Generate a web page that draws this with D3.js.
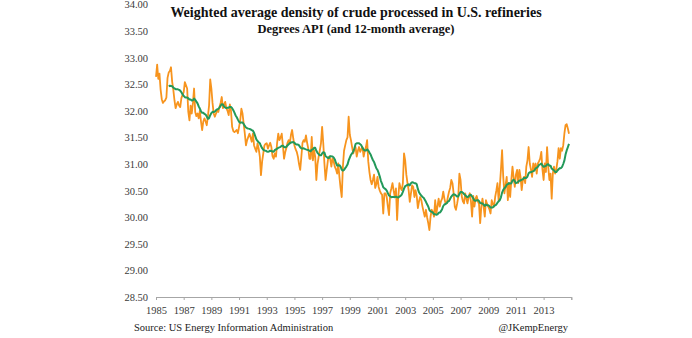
<!DOCTYPE html>
<html>
<head>
<meta charset="utf-8">
<script src="https://cdn.jsdelivr.net/npm/d3@7"></script>
<style>
  html, body { margin: 0; padding: 0; background: #fff; }
  svg { display: block; }
  text { font-family: "Liberation Serif", "DejaVu Serif", serif; }
</style>
</head>
<body>
<svg id="chart" width="692" height="338"></svg>
<script>
// Monthly weighted-average API gravity of crude run in U.S. refineries, Jan 1985 onward
const startYear = 1985;
const apiMonthly = [
  32.64, 32.87, 32.60, 32.70, 32.40, 32.22, 32.15, 32.18, 32.20, 32.25, 32.62, 32.72, // 1985
  32.75, 32.82, 32.55, 32.40, 32.20, 32.05, 32.12, 32.17, 32.10, 32.07, 32.24, 32.30, // 1986
  32.35, 32.54, 32.48, 32.42, 31.98, 31.82, 32.10, 31.95, 32.15, 32.42, 31.98, 31.90, // 1987
  31.95, 31.86, 32.00, 31.80, 31.64, 31.80, 31.86, 31.80, 31.73, 31.90, 32.10, 32.59, // 1988
  32.42, 32.15, 31.95, 31.89, 31.95, 32.00, 31.98, 32.07, 32.15, 32.26, 32.05, 32.12, // 1989
  32.17, 32.05, 32.00, 31.92, 32.12, 32.00, 31.70, 31.62, 31.60, 31.62, 31.64, 31.58, // 1990
  31.70, 31.82, 32.04, 31.95, 31.76, 31.57, 31.35, 31.45, 31.51, 31.57, 31.50, 31.42, // 1991
  31.57, 31.35, 31.29, 31.23, 31.39, 31.29, 31.14, 30.79, 31.05, 31.20, 31.35, 31.38, // 1992
  31.39, 31.29, 31.35, 31.40, 31.32, 31.15, 31.10, 31.20, 31.14, 31.40, 31.57, 31.45, // 1993
  31.50, 31.57, 31.35, 31.10, 31.22, 31.30, 31.40, 31.45, 31.39, 31.55, 31.64, 31.48, // 1994
  31.35, 31.28, 31.23, 31.14, 31.00, 30.89, 31.14, 31.40, 31.45, 31.42, 31.54, 31.40, // 1995
  31.29, 31.10, 31.10, 31.51, 31.07, 31.26, 31.14, 30.70, 31.00, 31.14, 31.26, 31.39, // 1996
  31.70, 31.39, 31.01, 30.70, 30.89, 31.07, 31.14, 31.10, 30.95, 31.10, 31.05, 30.95, // 1997
  30.90, 30.82, 31.01, 30.76, 30.55, 30.38, 30.95, 31.25, 31.35, 31.45, 31.50, 31.89, // 1998
  31.55, 31.45, 31.32, 31.20, 31.28, 31.32, 31.14, 31.25, 31.32, 31.23, 31.28, 31.32, // 1999
  31.14, 31.25, 31.32, 31.45, 31.05, 30.85, 30.70, 30.62, 30.70, 30.80, 30.55, 30.62, // 2000
  30.76, 30.57, 30.50, 30.45, 30.42, 30.07, 30.45, 30.45, 30.38, 30.20, 30.04, 30.45, // 2001
  30.54, 30.64, 30.50, 30.38, 30.54, 29.95, 30.38, 30.64, 30.55, 30.51, 30.64, 31.20, // 2002
  31.07, 30.80, 30.64, 30.51, 30.29, 30.45, 30.60, 30.57, 30.38, 30.51, 30.40, 30.17, // 2003
  30.30, 30.38, 30.32, 30.20, 30.10, 30.01, 30.14, 30.00, 29.89, 29.76, 30.01, 30.14, // 2004
  30.10, 30.01, 30.32, 30.07, 30.20, 30.35, 30.20, 30.30, 30.35, 30.48, 30.35, 30.26, // 2005
  30.26, 30.38, 30.48, 30.55, 30.70, 30.64, 30.45, 30.20, 30.14, 30.25, 30.38, 30.82, // 2006
  30.70, 30.40, 30.30, 30.26, 30.45, 30.35, 30.26, 30.38, 30.45, 30.30, 30.01, 30.40, // 2007
  30.20, 30.35, 30.40, 30.30, 30.25, 29.89, 30.20, 30.35, 30.20, 30.01, 30.32, 30.25, // 2008
  30.20, 30.15, 30.07, 30.32, 30.25, 30.20, 30.38, 30.50, 30.64, 30.32, 30.57, 30.89, // 2009
  31.26, 30.76, 30.45, 30.60, 30.76, 30.32, 30.64, 30.38, 30.70, 30.95, 30.75, 30.57, // 2010
  30.80, 30.89, 30.64, 30.89, 30.76, 30.51, 30.70, 30.76, 30.64, 30.95, 31.07, 31.32, // 2011
  31.01, 30.90, 30.76, 31.01, 30.89, 31.01, 30.82, 31.01, 31.05, 31.10, 31.23, 30.90, // 2012
  30.70, 31.01, 30.85, 31.32, 30.95, 30.70, 30.82, 30.35, 30.82, 30.95, 30.82, 30.90, // 2013
  31.05, 31.30, 31.10, 31.30, 31.25, 31.35, 31.57, 31.73, 31.75, 31.67, 31.57          // 2014
];

// Axis labels
const xTickLabels = ["1985", "1987", "1989", "1991", "1993", "1995", "1997", "1999",
                     "2001", "2003", "2005", "2007", "2009", "2011", "2013"];
const yTickValues = [28.5, 29, 29.5, 30, 30.5, 31, 31.5, 32, 32.5, 33, 33.5, 34];

const titleText = "Weighted average density of crude processed in U.S. refineries";
const subtitleText = "Degrees API (and 12-month average)";
const sourceText = "Source: US Energy Information Administration";
const creditText = "@JKempEnergy";

// Monthly points, plus the trailing 12-month mean once a full year is available
const points = apiMonthly.map((v, i) => ({ m: i, v }));
const avgWindow = 12;
const rolling = points
  .filter(p => p.m >= avgWindow - 1)
  .map(p => ({ m: p.m, v: d3.mean(apiMonthly.slice(p.m - avgWindow + 1, p.m + 1)) }));

const svg = d3.select("#chart");

const plot = { left: 156, right: 571.3, top: 4.5, bottom: 297 };
const monthsOnAxis = 360; // Jan 1985 .. Jan 2015

const x = d3.scaleLinear().domain([0, monthsOnAxis]).range([plot.left, plot.right]);
const y = d3.scaleLinear().domain([28.5, 34]).range([plot.bottom, plot.top]);

// Y axis: labels only
const yAxis = svg.append("g")
  .attr("transform", `translate(${plot.left - 2},0)`)
  .call(d3.axisLeft(y).tickValues(yTickValues).tickSize(0).tickPadding(6).tickFormat(d3.format(".2f")));
yAxis.select(".domain").remove();
yAxis.selectAll("text")
  .attr("font-family", "'Liberation Serif', serif")
  .attr("font-size", 10.5)
  .attr("fill", "#3a3a3a");

// X axis: ticks every two years
const xTickMonths = d3.range(0, monthsOnAxis + 1, 24);
const xAxis = svg.append("g")
  .attr("transform", `translate(0,${plot.bottom})`)
  .call(d3.axisBottom(x)
    .tickValues(xTickMonths)
    .tickSize(3)
    .tickPadding(7)
    .tickFormat((d, i) => xTickLabels[i] || ""));
xAxis.select(".domain").attr("stroke", "#a6a6a6").attr("stroke-width", 1);
xAxis.selectAll(".tick line").attr("stroke", "#a6a6a6");
xAxis.selectAll("text")
  .attr("font-family", "'Liberation Serif', serif")
  .attr("font-size", 10.5)
  .attr("fill", "#3a3a3a");

// Series
const line = d3.line()
  .x(d => x(d.m))
  .y(d => y(d.v));

svg.append("path")
  .datum(points)
  .attr("fill", "none")
  .attr("stroke", "#F7941E")
  .attr("stroke-width", 1.8)
  .attr("stroke-linejoin", "round")
  .attr("d", line);

svg.append("path")
  .datum(rolling)
  .attr("fill", "none")
  .attr("stroke", "#23995A")
  .attr("stroke-width", 2)
  .attr("stroke-linejoin", "round")
  .attr("d", line);

// Titles
svg.append("text")
  .attr("x", 356).attr("y", 17)
  .attr("text-anchor", "middle")
  .attr("font-size", 14)
  .attr("font-weight", "bold")
  .attr("fill", "#111")
  .text(titleText);

svg.append("text")
  .attr("x", 356).attr("y", 33)
  .attr("text-anchor", "middle")
  .attr("font-size", 12.5)
  .attr("font-weight", "bold")
  .attr("fill", "#111")
  .text(subtitleText);

// Footer
svg.append("text")
  .attr("x", 134).attr("y", 331)
  .attr("font-size", 10.5)
  .attr("fill", "#222")
  .text(sourceText);

svg.append("text")
  .attr("x", 568).attr("y", 331)
  .attr("text-anchor", "end")
  .attr("font-size", 10.5)
  .attr("fill", "#222")
  .text(creditText);
</script>
</body>
</html>
